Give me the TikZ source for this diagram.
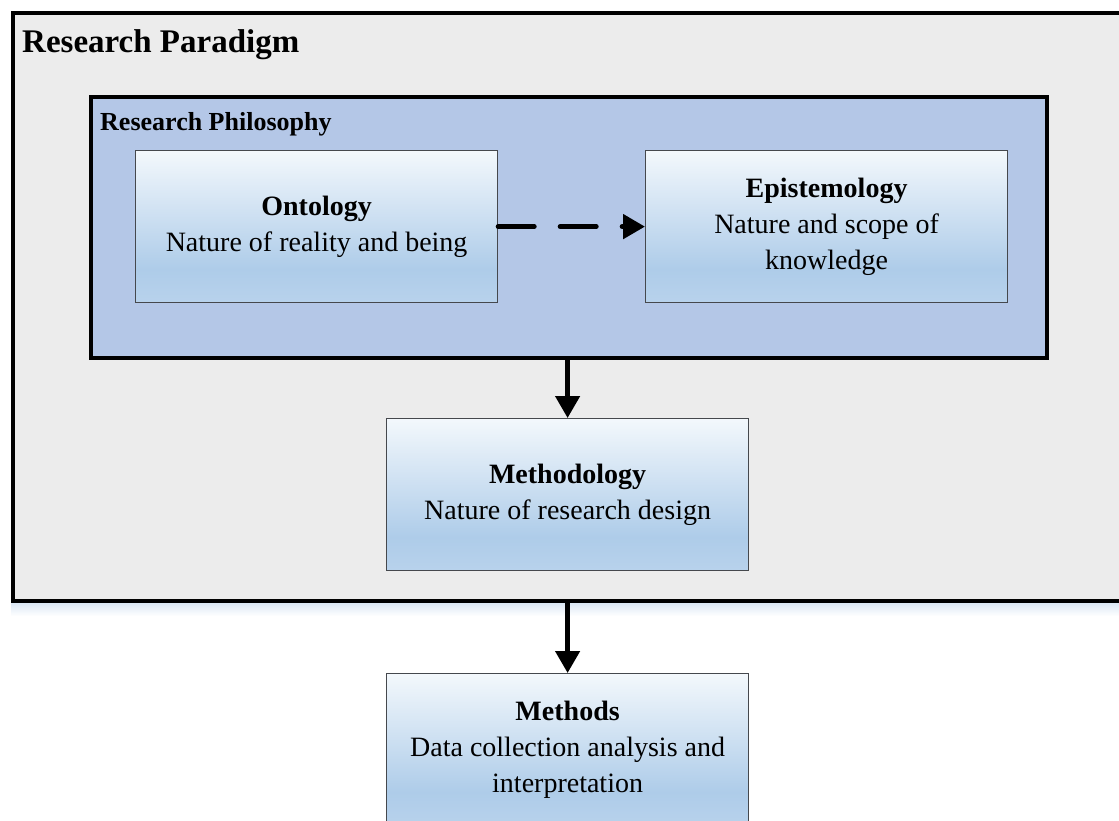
\documentclass[tikz,border=0pt]{standalone}
\usepackage{fontspec}
\setmainfont{Liberation Serif}
\usetikzlibrary{arrows.meta,positioning}

\definecolor{paradigmfill}{HTML}{ECECEC}
\definecolor{philofill}{HTML}{B4C7E7}
\definecolor{boxedge}{HTML}{45484D}
\definecolor{gtop}{RGB}{243,248,252}
\definecolor{gdark}{RGB}{174,204,233}
\definecolor{gbot}{RGB}{184,210,236}
\definecolor{glow}{RGB}{214,228,243}

% light blue gradient used for the concept boxes (25bp = bottom, 75bp = top)
\pgfdeclareverticalshading{conceptshade}{100bp}{%
  color(0bp)=(gbot); color(25bp)=(gbot); color(36bp)=(gdark);
  color(75bp)=(gtop); color(100bp)=(gtop)}

\tikzset{
  frame/.style={draw=black, line width=4pt},
  concept/.style={draw=boxedge, line width=1.2pt, shading=conceptshade,
    minimum width=362pt, minimum height=152pt, inner sep=0pt,
    align=center, font=\fontsize{28}{36}\selectfont},
  flow/.style={line width=4.5pt, -{Triangle[length=22pt,width=24pt]}},
  dashflow/.style={line width=5pt, line cap=round, dash pattern=on 36pt off 26pt,
    -{Triangle[length=22pt,width=24pt,line cap=butt]}},
}

\begin{document}
\begin{tikzpicture}[x=1pt,y=-1pt]
  \useasboundingbox (0,0) rectangle (1119,820);
  \clip (0,0) rectangle (1119,820);
  \fill[white] (0,0) rectangle (1119,820);

  % soft glow under the outer frame
  \shade[top color=glow, bottom color=white] (11,601) rectangle (1130,616);

  % outer frame: research paradigm (runs past the right edge)
  \node[frame, fill=paradigmfill, inner sep=0pt, minimum width=1130pt,
        minimum height=588pt, anchor=north west] (paradigm) at (11,11) {};
  \node[anchor=base west, inner sep=0pt, font=\fontsize{33}{38}\selectfont\bfseries]
    (paradigmlabel) at (22,52) {Research Paradigm};

  % inner frame: research philosophy
  \node[frame, fill=philofill, inner sep=0pt, minimum width=956pt,
        minimum height=261pt, anchor=north west] (philosophy) at (89,95) {};
  \node[anchor=base west, inner sep=0pt, font=\fontsize{26}{30}\selectfont\bfseries]
    (philolabel) at (100,130) {Research Philosophy};

  % concept boxes
  \node[concept, anchor=north west] (ontology) at (135,150)
    {\textbf{Ontology}\\Nature of reality and being};
  \node[concept, anchor=north west] (epistemology) at (645,150)
    {\textbf{Epistemology}\\Nature and scope of\\knowledge};
  \node[concept, anchor=north west] (methodology) at (386,418)
    {\textbf{Methodology}\\Nature of research design};
  \node[concept, anchor=north west] (methods) at (386,673)
    {\textbf{Methods}\\Data collection analysis and\\interpretation};

  % connectors
  \draw[dashflow] (ontology.east) -- (epistemology.west);
  \draw[flow] (philosophy.south -| methodology.north) -- (methodology.north);
  \draw[flow] (paradigm.south -| methods.north) -- (methods.north);
\end{tikzpicture}
\end{document}
